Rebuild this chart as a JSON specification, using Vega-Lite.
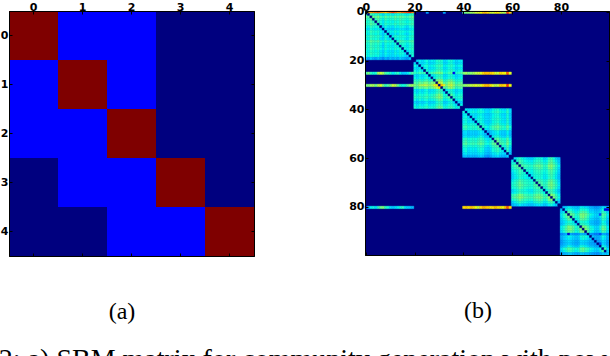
{"$schema":"https://vega.github.io/schema/vega-lite/v6.json","padding":{"left":-2,"top":0,"right":0,"bottom":0},"background":"white","title":{"text":"2: a) SBM matrix for community generation with pow","orient":"bottom","anchor":"start","dx":-1,"offset":22,"font":"Liberation Serif","fontSize":28,"fontWeight":"normal","color":"#000"},"config":{"axis":{"grid":false,"domainColor":"#000","tickColor":"#000","tickSize":-3,"labelFont":"DejaVu Sans","labelFontWeight":"bold","labelFontSize":11,"labelColor":"#000","labelAngle":0,"titleFont":"Liberation Serif","titleFontWeight":"normal","titleFontSize":24,"titleColor":"#000"},"view":{"stroke":"#000"}},"bounds":"flush","spacing":111,"hconcat":[{"width":245,"height":245,"data":{"values":[{"x":0,"y":0,"v":100},{"x":1,"y":0,"v":11},{"x":2,"y":0,"v":11},{"x":3,"y":0,"v":0},{"x":4,"y":0,"v":0},{"x":0,"y":1,"v":11},{"x":1,"y":1,"v":100},{"x":2,"y":1,"v":11},{"x":3,"y":1,"v":0},{"x":4,"y":1,"v":0},{"x":0,"y":2,"v":11},{"x":1,"y":2,"v":11},{"x":2,"y":2,"v":100},{"x":3,"y":2,"v":0},{"x":4,"y":2,"v":0},{"x":0,"y":3,"v":0},{"x":1,"y":3,"v":11},{"x":2,"y":3,"v":11},{"x":3,"y":3,"v":100},{"x":4,"y":3,"v":0},{"x":0,"y":4,"v":0},{"x":1,"y":4,"v":0},{"x":2,"y":4,"v":11},{"x":3,"y":4,"v":11},{"x":4,"y":4,"v":100}]},"layer":[{"mark":{"type":"rect"},"encoding":{"x":{"field":"x","type":"ordinal","scale":{"paddingInner":0,"paddingOuter":0,"round":true},"axis":{"orient":"top","title":null,"labelPadding":2}},"y":{"field":"y","type":"ordinal","scale":{"paddingInner":0,"paddingOuter":0,"round":true},"axis":{"orient":"left","title":null,"labelPadding":4}},"color":{"field":"v","type":"quantitative","legend":null,"scale":{"domain":[0,11,34,37.5,50,64,66,91,100],"range":["#00007f","#0000ff","#00dfff","#14ffe2","#7cff79","#eeff08","#ffea00","#ff0000","#7f0000"]}}}},{"mark":{"type":"rect","opacity":0},"encoding":{"x":{"field":"x","type":"ordinal","axis":{"orient":"bottom","title":"(a)","labels":false,"titlePadding":43,"titleX":112.5}},"y":{"field":"y","type":"ordinal","axis":{"orient":"right","title":null,"labels":false}}}}],"resolve":{"axis":{"x":"independent","y":"independent"}}},{"width":244,"height":244,"view":{"fill":"#00007f","stroke":"#000"},"data":{"values":[
{"y":0,"x":[1,2,3,4,5,6,7,8,9,10,11,12,13,14,15,16,17,18,19,25,32,40,41,42,43,44,45,46,47,48,49,50,51,52,53,54,55,56,57,58,59],"v":[74,78,80,84,86,80,76,72,80,84,88,84,80,78,84,86,88,90,82,24,26,46,50,52,54,56,60,62,64,70,72,68,62,60,64,66,62,58,56,88,70]},
{"y":1,"x":[0,1,2,3,4,5,6,7,8,9,10,11,12,13,14,15,16,17,18,19],"v":[40,0,44,41,38,42,37,33,39,36,38,35,39,38,40,38,37,36,39,41]},
{"y":2,"x":[0,1,2,3,4,5,6,7,8,9,10,11,12,13,14,15,16,17,18,19],"v":[47,45,0,48,46,49,44,41,46,43,45,42,47,44,47,46,44,43,46,48]},
{"y":3,"x":[0,1,2,3,4,5,6,7,8,9,10,11,12,13,14,15,16,17,18,19],"v":[44,42,47,0,43,45,41,37,43,40,41,40,44,41,44,42,41,39,43,45]},
{"y":4,"x":[0,1,2,3,4,5,6,7,8,9,10,11,12,13,14,15,16,17,18,19],"v":[41,39,44,42,0,43,38,35,40,37,38,36,40,38,42,40,38,37,40,42]},
{"y":5,"x":[0,1,2,3,4,5,6,7,8,9,10,11,12,13,14,15,16,17,18,19],"v":[43,41,46,44,42,0,40,36,42,39,40,39,43,40,43,42,41,39,42,44]},
{"y":6,"x":[0,1,2,3,4,5,6,7,8,9,10,11,12,13,14,15,16,17,18,19],"v":[39,37,42,40,38,40,0,33,38,35,36,34,38,36,39,38,36,34,38,40]},
{"y":7,"x":[0,1,2,3,4,5,6,7,8,9,10,11,12,13,14,15,16,17,18,19],"v":[36,34,39,37,35,37,32,0,35,31,33,31,35,33,36,35,33,31,35,37]},
{"y":8,"x":[0,1,2,3,4,5,6,7,8,9,10,11,12,13,14,15,16,17,18,19],"v":[40,38,43,41,39,41,37,34,0,36,37,36,40,37,40,39,37,36,39,41]},
{"y":9,"x":[0,1,2,3,4,5,6,7,8,9,10,11,12,13,14,15,16,17,18,19],"v":[38,36,41,39,37,39,35,31,37,0,35,33,37,34,38,37,35,33,37,39]},
{"y":10,"x":[0,1,2,3,4,5,6,7,8,9,10,11,12,13,14,15,16,17,18,19],"v":[41,39,44,42,40,42,38,34,40,37,0,37,41,38,41,40,38,36,40,42]},
{"y":11,"x":[0,1,2,3,4,5,6,7,8,9,10,11,12,13,14,15,16,17,18,19],"v":[39,37,42,40,38,40,35,33,38,34,36,0,38,36,39,38,36,34,38,40]},
{"y":12,"x":[0,1,2,3,4,5,6,7,8,9,10,11,12,13,14,15,16,17,18,19],"v":[44,42,47,45,43,46,41,38,43,40,41,40,0,41,45,43,41,40,43,45]},
{"y":13,"x":[0,1,2,3,4,5,6,7,8,9,10,11,12,13,14,15,16,17,18,19],"v":[41,39,44,42,40,42,38,34,40,37,38,36,40,0,41,40,38,36,40,42]},
{"y":14,"x":[0,1,2,3,4,5,6,7,8,9,10,11,12,13,14,15,16,17,18,19],"v":[40,38,43,41,39,41,37,33,39,36,37,35,39,37,0,39,37,35,39,41]},
{"y":15,"x":[0,1,2,3,4,5,6,7,8,9,10,11,12,13,14,15,16,17,18,19],"v":[41,39,44,42,40,42,38,35,40,37,38,36,40,38,41,0,38,37,40,42]},
{"y":16,"x":[0,1,2,3,4,5,6,7,8,9,10,11,12,13,14,15,16,17,18,19],"v":[38,36,41,39,37,39,35,32,37,34,35,33,37,35,38,37,0,33,37,39]},
{"y":17,"x":[0,1,2,3,4,5,6,7,8,9,10,11,12,13,14,15,16,17,18,19],"v":[39,37,42,40,38,40,36,33,38,35,36,34,38,36,39,38,35,0,38,40]},
{"y":18,"x":[0,1,2,3,4,5,6,7,8,9,10,11,12,13,14,15,16,17,18,19],"v":[38,36,40,38,37,38,34,31,36,33,34,33,36,34,37,36,34,33,0,38]},
{"y":19,"x":[0,1,2,3,4,5,6,7,8,9,10,11,12,13,14,15,16,17,18,19],"v":[30,26,32,28,25,30,26,22,28,24,30,26,30,26,32,28,26,24,30,0]},
{"y":20,"x":[20,21,22,23,24,25,26,27,28,29,30,31,32,33,34,35,36,37,38,39],"v":[0,32,36,34,36,38,34,36,36,40,42,40,34,35,38,40,36,33,35,36]},
{"y":21,"x":[20,21,22,23,24,25,26,27,28,29,30,31,32,33,34,35,36,37,38,39],"v":[34,0,35,33,35,37,33,34,35,38,40,39,33,34,37,38,35,32,34,35]},
{"y":22,"x":[20,21,22,23,24,25,26,27,28,29,30,31,32,33,34,35,36,37,38,39],"v":[38,35,0,36,38,40,36,37,38,42,44,43,36,37,40,42,38,35,37,38]},
{"y":23,"x":[20,21,22,23,24,25,26,27,28,29,30,31,32,33,34,35,36,37,38,39],"v":[35,33,36,0,36,38,34,35,36,40,42,40,34,35,38,40,36,33,35,36]},
{"y":24,"x":[20,21,22,23,24,25,26,27,28,29,30,31,32,33,34,35,36,37,38,39],"v":[38,35,38,36,0,40,36,37,38,42,44,42,36,37,40,42,38,35,37,38]},
{"y":25,"x":[0,1,2,3,4,5,6,7,8,9,10,11,12,13,14,15,16,17,18,19,20,21,22,23,24,25,26,27,28,29,30,31,32,33,34,35,36,37,38,39,40,41,42,43,44,45,46,47,48,49,50,51,52,53,54,55,56,57,58,59],"v":[45,50,42,38,40,55,60,55,45,42,40,35,38,42,36,30,32,35,40,45,42,40,44,42,44,0,42,44,46,48,50,48,40,40,44,46,10,40,42,44,50,55,50,52,55,58,60,62,68,72,72,70,68,62,60,68,66,64,85,62]},
{"y":26,"x":[20,21,22,23,24,25,26,27,28,29,30,31,32,33,34,35,36,37,38,39],"v":[35,33,36,34,36,38,0,35,36,40,42,41,34,35,38,40,36,33,35,36]},
{"y":27,"x":[20,21,22,23,24,25,26,27,28,29,30,31,32,33,34,35,36,37,38,39],"v":[37,34,37,35,37,39,35,0,37,41,44,42,35,36,39,41,37,34,36,37]},
{"y":28,"x":[20,21,22,23,24,25,26,27,28,29,30,31,32,33,34,35,36,37,38,39],"v":[42,39,42,40,42,44,40,42,0,48,52,50,40,42,46,48,42,38,40,42]},
{"y":29,"x":[20,21,22,23,24,25,26,27,28,29,30,31,32,33,34,35,36,37,38,39],"v":[46,44,48,46,50,50,46,50,50,0,62,58,46,46,52,54,48,42,44,46]},
{"y":30,"x":[0,1,2,3,4,5,6,7,8,9,10,11,12,13,14,15,16,17,18,19,20,21,22,23,24,25,26,27,28,29,30,31,32,33,34,35,36,37,38,39,40,41,42,43,44,45,46,47,48,49,50,51,52,53,54,55,56,57,58,59],"v":[50,50,55,56,48,58,62,50,42,46,50,60,58,48,42,38,40,46,52,55,50,48,54,56,58,56,52,54,62,66,0,72,62,50,56,60,52,46,48,50,50,54,56,58,60,62,60,62,66,72,74,66,62,58,60,68,70,66,88,64]},
{"y":31,"x":[20,21,22,23,24,25,26,27,28,29,30,31,32,33,34,35,36,37,38,39],"v":[46,44,48,46,48,50,46,48,52,58,66,0,46,46,52,54,48,42,44,46]},
{"y":32,"x":[20,21,22,23,24,25,26,27,28,29,30,31,32,33,34,35,36,37,38,39],"v":[36,33,36,34,36,38,34,35,36,40,44,42,0,35,38,40,36,33,35,36]},
{"y":33,"x":[20,21,22,23,24,25,26,27,28,29,30,31,32,33,34,35,36,37,38,39],"v":[37,34,37,35,37,39,35,36,37,41,44,42,35,0,39,41,37,34,36,37]},
{"y":34,"x":[20,21,22,23,24,25,26,27,28,29,30,31,32,33,34,35,36,37,38,39],"v":[40,37,40,38,40,42,38,40,42,46,50,47,38,40,0,46,40,36,38,40]},
{"y":35,"x":[20,21,22,23,24,25,26,27,28,29,30,31,32,33,34,35,36,37,38,39],"v":[42,39,42,40,42,44,40,42,44,48,52,49,40,42,46,0,42,38,40,42]},
{"y":36,"x":[20,21,22,23,24,25,26,27,28,29,30,31,32,33,34,35,36,37,38,39],"v":[38,35,38,36,38,40,36,37,38,42,46,44,36,37,40,42,0,35,37,38]},
{"y":37,"x":[20,21,22,23,24,25,26,27,28,29,30,31,32,33,34,35,36,37,38,39],"v":[34,31,34,32,34,36,32,33,34,38,42,40,32,33,36,38,34,0,33,34]},
{"y":38,"x":[20,21,22,23,24,25,26,27,28,29,30,31,32,33,34,35,36,37,38,39],"v":[37,34,37,35,37,39,35,36,37,41,44,42,35,36,39,41,37,34,0,37]},
{"y":39,"x":[20,21,22,23,24,25,26,27,28,29,30,31,32,33,34,35,36,37,38,39],"v":[40,37,40,38,40,42,38,39,40,44,48,46,38,39,42,44,40,37,39,0]},
{"y":40,"x":[40,41,42,43,44,45,46,47,48,49,50,51,52,53,54,55,56,57,58,59],"v":[0,36,34,35,36,34,37,38,36,33,32,34,37,39,41,37,35,34,40,32]},
{"y":41,"x":[40,41,42,43,44,45,46,47,48,49,50,51,52,53,54,55,56,57,58,59],"v":[38,0,36,37,38,36,39,40,38,35,34,36,39,41,43,39,37,36,42,34]},
{"y":42,"x":[40,41,42,43,44,45,46,47,48,49,50,51,52,53,54,55,56,57,58,59],"v":[35,37,0,34,35,33,36,37,35,32,31,33,36,38,40,36,34,33,39,31]},
{"y":43,"x":[40,41,42,43,44,45,46,47,48,49,50,51,52,53,54,55,56,57,58,59],"v":[36,38,34,0,36,34,37,38,36,33,32,34,37,39,41,37,35,34,40,32]},
{"y":44,"x":[40,41,42,43,44,45,46,47,48,49,50,51,52,53,54,55,56,57,58,59],"v":[38,39,36,37,0,35,38,39,37,34,33,35,38,40,42,38,36,35,41,33]},
{"y":45,"x":[40,41,42,43,44,45,46,47,48,49,50,51,52,53,54,55,56,57,58,59],"v":[36,38,34,35,35,0,37,38,36,32,31,33,37,39,41,37,35,34,40,32]},
{"y":46,"x":[40,41,42,43,44,45,46,47,48,49,50,51,52,53,54,55,56,57,58,59],"v":[38,40,37,38,38,37,0,40,38,35,33,36,39,41,44,39,37,36,42,34]},
{"y":47,"x":[40,41,42,43,44,45,46,47,48,49,50,51,52,53,54,55,56,57,58,59],"v":[42,44,40,41,42,40,44,0,42,38,36,40,44,46,48,44,42,40,47,38]},
{"y":48,"x":[40,41,42,43,44,45,46,47,48,49,50,51,52,53,54,55,56,57,58,59],"v":[40,42,38,39,40,38,42,43,0,36,34,38,42,44,46,42,40,38,45,36]},
{"y":49,"x":[40,41,42,43,44,45,46,47,48,49,50,51,52,53,54,55,56,57,58,59],"v":[33,35,31,32,33,31,34,36,34,0,27,30,34,36,38,34,32,31,37,29]},
{"y":50,"x":[40,41,42,43,44,45,46,47,48,49,50,51,52,53,54,55,56,57,58,59],"v":[32,34,30,31,32,30,33,35,33,28,0,29,33,35,37,33,31,30,36,28]},
{"y":51,"x":[40,41,42,43,44,45,46,47,48,49,50,51,52,53,54,55,56,57,58,59],"v":[34,36,33,34,35,33,36,38,36,30,29,0,36,38,40,36,34,33,39,31]},
{"y":52,"x":[40,41,42,43,44,45,46,47,48,49,50,51,52,53,54,55,56,57,58,59],"v":[40,42,38,39,40,38,41,43,41,36,34,37,0,44,46,42,40,38,45,36]},
{"y":53,"x":[40,41,42,43,44,45,46,47,48,49,50,51,52,53,54,55,56,57,58,59],"v":[42,44,40,41,42,40,43,45,43,38,36,39,44,0,48,44,42,40,47,38]},
{"y":54,"x":[40,41,42,43,44,45,46,47,48,49,50,51,52,53,54,55,56,57,58,59],"v":[44,46,42,43,44,42,45,47,45,40,38,41,46,48,0,46,44,42,49,40]},
{"y":55,"x":[40,41,42,43,44,45,46,47,48,49,50,51,52,53,54,55,56,57,58,59],"v":[40,42,38,39,40,38,41,43,41,36,34,37,42,44,46,0,40,38,45,36]},
{"y":56,"x":[40,41,42,43,44,45,46,47,48,49,50,51,52,53,54,55,56,57,58,59],"v":[37,39,35,36,37,35,38,40,38,33,31,34,39,41,43,39,0,35,42,33]},
{"y":57,"x":[40,41,42,43,44,45,46,47,48,49,50,51,52,53,54,55,56,57,58,59],"v":[36,38,34,35,36,34,37,39,37,32,30,33,38,40,42,38,36,0,41,32]},
{"y":58,"x":[40,41,42,43,44,45,46,47,48,49,50,51,52,53,54,55,56,57,58,59],"v":[34,36,33,34,34,33,35,36,35,30,28,31,35,36,38,35,34,33,0,30]},
{"y":59,"x":[40,41,42,43,44,45,46,47,48,49,50,51,52,53,54,55,56,57,58,59],"v":[28,30,27,28,28,27,30,32,30,24,22,26,30,32,34,30,28,27,32,0]},
{"y":60,"x":[60,61,62,63,64,65,66,67,68,69,70,71,72,73,74,75,76,77,78,79],"v":[0,34,38,42,38,36,34,33,32,36,38,40,38,33,35,42,44,38,33,28]},
{"y":61,"x":[60,61,62,63,64,65,66,67,68,69,70,71,72,73,74,75,76,77,78,79],"v":[36,0,40,44,42,38,37,36,35,39,41,42,40,36,37,44,46,41,36,30]},
{"y":62,"x":[60,61,62,63,64,65,66,67,68,69,70,71,72,73,74,75,76,77,78,79],"v":[38,40,0,46,42,40,39,38,37,41,43,44,42,38,39,46,48,43,38,32]},
{"y":63,"x":[60,61,62,63,64,65,66,67,68,69,70,71,72,73,74,75,76,77,78,79],"v":[42,44,46,0,46,44,43,42,41,45,47,48,46,42,43,50,52,47,42,36]},
{"y":64,"x":[60,61,62,63,64,65,66,67,68,69,70,71,72,73,74,75,76,77,78,79],"v":[38,42,44,46,0,42,41,40,39,43,44,46,44,40,41,48,50,44,40,34]},
{"y":65,"x":[60,61,62,63,64,65,66,67,68,69,70,71,72,73,74,75,76,77,78,79],"v":[36,38,40,44,42,0,39,38,37,41,42,43,41,38,39,44,46,42,38,32]},
{"y":66,"x":[60,61,62,63,64,65,66,67,68,69,70,71,72,73,74,75,76,77,78,79],"v":[34,37,39,43,41,39,0,37,36,40,41,42,40,37,38,43,45,41,37,31]},
{"y":67,"x":[60,61,62,63,64,65,66,67,68,69,70,71,72,73,74,75,76,77,78,79],"v":[33,36,38,42,40,38,37,0,35,39,40,41,39,36,37,42,44,40,36,30]},
{"y":68,"x":[60,61,62,63,64,65,66,67,68,69,70,71,72,73,74,75,76,77,78,79],"v":[32,35,37,41,39,37,36,35,0,38,39,40,38,35,36,41,43,39,35,29]},
{"y":69,"x":[60,61,62,63,64,65,66,67,68,69,70,71,72,73,74,75,76,77,78,79],"v":[36,39,41,45,43,41,40,39,38,0,43,44,42,39,40,45,47,43,39,33]},
{"y":70,"x":[60,61,62,63,64,65,66,67,68,69,70,71,72,73,74,75,76,77,78,79],"v":[38,41,43,47,44,42,41,40,39,43,0,46,44,41,42,47,49,44,40,34]},
{"y":71,"x":[60,61,62,63,64,65,66,67,68,69,70,71,72,73,74,75,76,77,78,79],"v":[40,42,44,48,46,43,42,41,40,44,46,0,45,42,43,48,50,46,42,36]},
{"y":72,"x":[60,61,62,63,64,65,66,67,68,69,70,71,72,73,74,75,76,77,78,79],"v":[38,40,42,46,44,41,40,39,38,42,44,45,0,40,41,46,48,44,40,34]},
{"y":73,"x":[60,61,62,63,64,65,66,67,68,69,70,71,72,73,74,75,76,77,78,79],"v":[33,36,38,42,40,38,37,36,35,39,41,42,40,0,37,42,44,40,36,30]},
{"y":74,"x":[60,61,62,63,64,65,66,67,68,69,70,71,72,73,74,75,76,77,78,79],"v":[35,37,39,43,41,39,38,37,36,40,42,43,41,37,0,43,45,41,37,31]},
{"y":75,"x":[60,61,62,63,64,65,66,67,68,69,70,71,72,73,74,75,76,77,78,79],"v":[42,44,46,50,48,44,43,42,41,45,47,48,46,42,43,0,52,48,42,36]},
{"y":76,"x":[60,61,62,63,64,65,66,67,68,69,70,71,72,73,74,75,76,77,78,79],"v":[44,46,48,52,50,46,45,44,43,47,49,50,48,44,45,52,0,50,44,38]},
{"y":77,"x":[60,61,62,63,64,65,66,67,68,69,70,71,72,73,74,75,76,77,78,79],"v":[38,41,43,47,44,42,41,40,39,43,44,46,44,40,41,48,50,0,40,34]},
{"y":78,"x":[60,61,62,63,64,65,66,67,68,69,70,71,72,73,74,75,76,77,78,79],"v":[33,36,38,42,40,38,37,36,35,39,40,42,40,36,37,42,44,40,0,30]},
{"y":79,"x":[60,61,62,63,64,65,66,67,68,69,70,71,72,73,74,75,76,77,78,79],"v":[28,30,32,36,34,32,31,30,29,33,34,36,34,30,31,36,38,34,30,0]},
{"y":80,"x":[0,1,2,3,4,5,6,7,8,9,10,11,12,13,14,15,16,17,18,19,40,41,42,43,44,45,46,47,48,49,50,51,52,53,54,55,56,57,58,59,80,81,82,83,84,85,86,87,88,89,90,91,92,93,94,95,96,97,98,99],"v":[12,30,36,38,34,42,48,50,42,38,34,30,34,36,40,42,34,32,30,28,68,70,66,72,68,64,60,68,74,72,70,66,68,72,68,66,64,72,85,68,0,28,32,36,34,32,30,30,36,36,34,32,28,26,24,24,28,34,32,26]},
{"y":81,"x":[80,81,82,83,84,85,86,87,88,89,90,91,92,93,94,95,96,97,98,99],"v":[28,0,36,40,38,36,33,34,40,40,38,36,31,30,28,27,31,38,10,8]},
{"y":82,"x":[80,81,82,83,84,85,86,87,88,89,90,91,92,93,94,95,96,97,98,99],"v":[32,36,0,46,44,40,36,38,44,46,44,40,34,34,31,30,34,42,40,32]},
{"y":83,"x":[80,81,82,83,84,85,86,87,88,89,90,91,92,93,94,95,96,97,98,99],"v":[36,40,46,0,48,46,40,42,50,50,48,44,38,36,34,32,15,46,44,36]},
{"y":84,"x":[80,81,82,83,84,85,86,87,88,89,90,91,92,93,94,95,96,97,98,99],"v":[34,38,44,48,0,44,38,40,48,50,46,42,36,34,32,30,36,44,42,34]},
{"y":85,"x":[80,81,82,83,84,85,86,87,88,89,90,91,92,93,94,95,96,97,98,99],"v":[32,36,40,46,44,0,36,38,46,46,44,40,34,32,30,28,34,42,40,32]},
{"y":86,"x":[80,81,82,83,84,85,86,87,88,89,90,91,92,93,94,95,96,97,98,99],"v":[30,33,36,40,38,36,0,34,40,40,38,36,30,29,27,26,30,38,36,28]},
{"y":87,"x":[80,81,82,83,84,85,86,87,88,89,90,91,92,93,94,95,96,97,98,99],"v":[30,34,38,42,40,38,34,0,42,42,40,38,32,30,28,27,32,40,38,30]},
{"y":88,"x":[80,81,82,83,84,85,86,87,88,89,90,91,92,93,94,95,96,97,98,99],"v":[36,40,44,50,48,46,40,42,0,50,48,44,38,36,34,32,38,46,44,36]},
{"y":89,"x":[80,81,82,83,84,85,86,87,88,89,90,91,92,93,94,95,96,97,98,99],"v":[36,40,46,50,50,46,40,42,50,0,50,46,40,38,34,32,38,48,46,36]},
{"y":90,"x":[80,81,82,83,84,85,86,87,88,89,90,91,92,93,94,95,96,97,98,99],"v":[34,38,44,48,46,44,38,40,48,50,0,44,38,36,32,30,36,44,42,34]},
{"y":91,"x":[80,81,82,83,84,85,86,87,88,89,90,91,92,93,94,95,96,97,98,99],"v":[22,24,28,8,26,24,22,24,28,28,26,0,24,22,20,20,15,26,26,22]},
{"y":92,"x":[80,81,82,83,84,85,86,87,88,89,90,91,92,93,94,95,96,97,98,99],"v":[28,31,34,38,36,34,30,32,38,40,38,36,0,30,28,26,30,38,36,28]},
{"y":93,"x":[80,81,82,83,84,85,86,87,88,89,90,91,92,93,94,95,96,97,98,99],"v":[26,30,34,36,34,32,29,30,36,38,36,34,30,0,26,25,29,36,34,27]},
{"y":94,"x":[80,81,82,83,84,85,86,87,88,89,90,91,92,93,94,95,96,97,98,99],"v":[24,28,31,34,32,30,27,28,34,34,32,30,28,26,0,24,27,34,32,25]},
{"y":95,"x":[80,81,82,83,84,85,86,87,88,89,90,91,92,93,94,95,96,97,98,99],"v":[24,27,30,32,30,28,26,27,32,32,30,28,26,25,24,0,15,32,30,24]},
{"y":96,"x":[80,81,82,83,84,85,86,87,88,89,90,91,92,93,94,95,96,97,98,99],"v":[28,31,34,38,36,34,30,32,38,38,36,34,30,29,27,26,0,38,36,28]},
{"y":97,"x":[80,81,82,83,84,85,86,87,88,89,90,91,92,93,94,95,96,97,98,99],"v":[34,38,42,46,44,42,38,40,46,48,44,42,38,36,34,32,38,0,44,34]},
{"y":98,"x":[80,81,82,83,84,85,86,87,88,89,90,91,92,93,94,95,96,97,98,99],"v":[32,36,40,44,42,40,36,38,44,46,42,40,36,34,32,30,36,44,0,32]},
{"y":99,"x":[80,81,82,83,84,85,86,87,88,89,90,91,92,93,94,95,96,97,98,99],"v":[24,26,28,30,30,28,26,26,30,30,28,28,26,24,24,22,26,30,30,30]}
]},"transform":[{"flatten":["x","v"]}],"layer":[{"mark":{"type":"rect","strokeWidth":0.4},"encoding":{"x":{"field":"x","type":"ordinal","scale":{"domain":[0,1,2,3,4,5,6,7,8,9,10,11,12,13,14,15,16,17,18,19,20,21,22,23,24,25,26,27,28,29,30,31,32,33,34,35,36,37,38,39,40,41,42,43,44,45,46,47,48,49,50,51,52,53,54,55,56,57,58,59,60,61,62,63,64,65,66,67,68,69,70,71,72,73,74,75,76,77,78,79,80,81,82,83,84,85,86,87,88,89,90,91,92,93,94,95,96,97,98,99],"paddingInner":0,"paddingOuter":0,"round":false},"axis":{"orient":"top","title":null,"values":[0,20,40,60,80],"labelPadding":2}},"y":{"field":"y","type":"ordinal","scale":{"domain":[0,1,2,3,4,5,6,7,8,9,10,11,12,13,14,15,16,17,18,19,20,21,22,23,24,25,26,27,28,29,30,31,32,33,34,35,36,37,38,39,40,41,42,43,44,45,46,47,48,49,50,51,52,53,54,55,56,57,58,59,60,61,62,63,64,65,66,67,68,69,70,71,72,73,74,75,76,77,78,79,80,81,82,83,84,85,86,87,88,89,90,91,92,93,94,95,96,97,98,99],"paddingInner":0,"paddingOuter":0,"round":false},"axis":{"orient":"left","title":null,"values":[0,20,40,60,80],"labelPadding":4}},"color":{"field":"v","type":"quantitative","legend":null,"scale":{"domain":[0,11,34,37.5,50,64,66,91,100],"range":["#00007f","#0000ff","#00dfff","#14ffe2","#7cff79","#eeff08","#ffea00","#ff0000","#7f0000"]}},"stroke":{"field":"v","type":"quantitative","legend":null,"scale":{"domain":[0,11,34,37.5,50,64,66,91,100],"range":["#00007f","#0000ff","#00dfff","#14ffe2","#7cff79","#eeff08","#ffea00","#ff0000","#7f0000"]}}}},{"mark":{"type":"rect","opacity":0},"encoding":{"x":{"field":"x","type":"ordinal","axis":{"orient":"bottom","title":"(b)","labels":false,"values":[0,20,40,60,80],"titlePadding":43,"titleX":112.5}},"y":{"field":"y","type":"ordinal","axis":{"orient":"right","title":null,"labels":false,"values":[0,20,40,60,80]}}}}],"resolve":{"axis":{"x":"independent","y":"independent"}}}]}
